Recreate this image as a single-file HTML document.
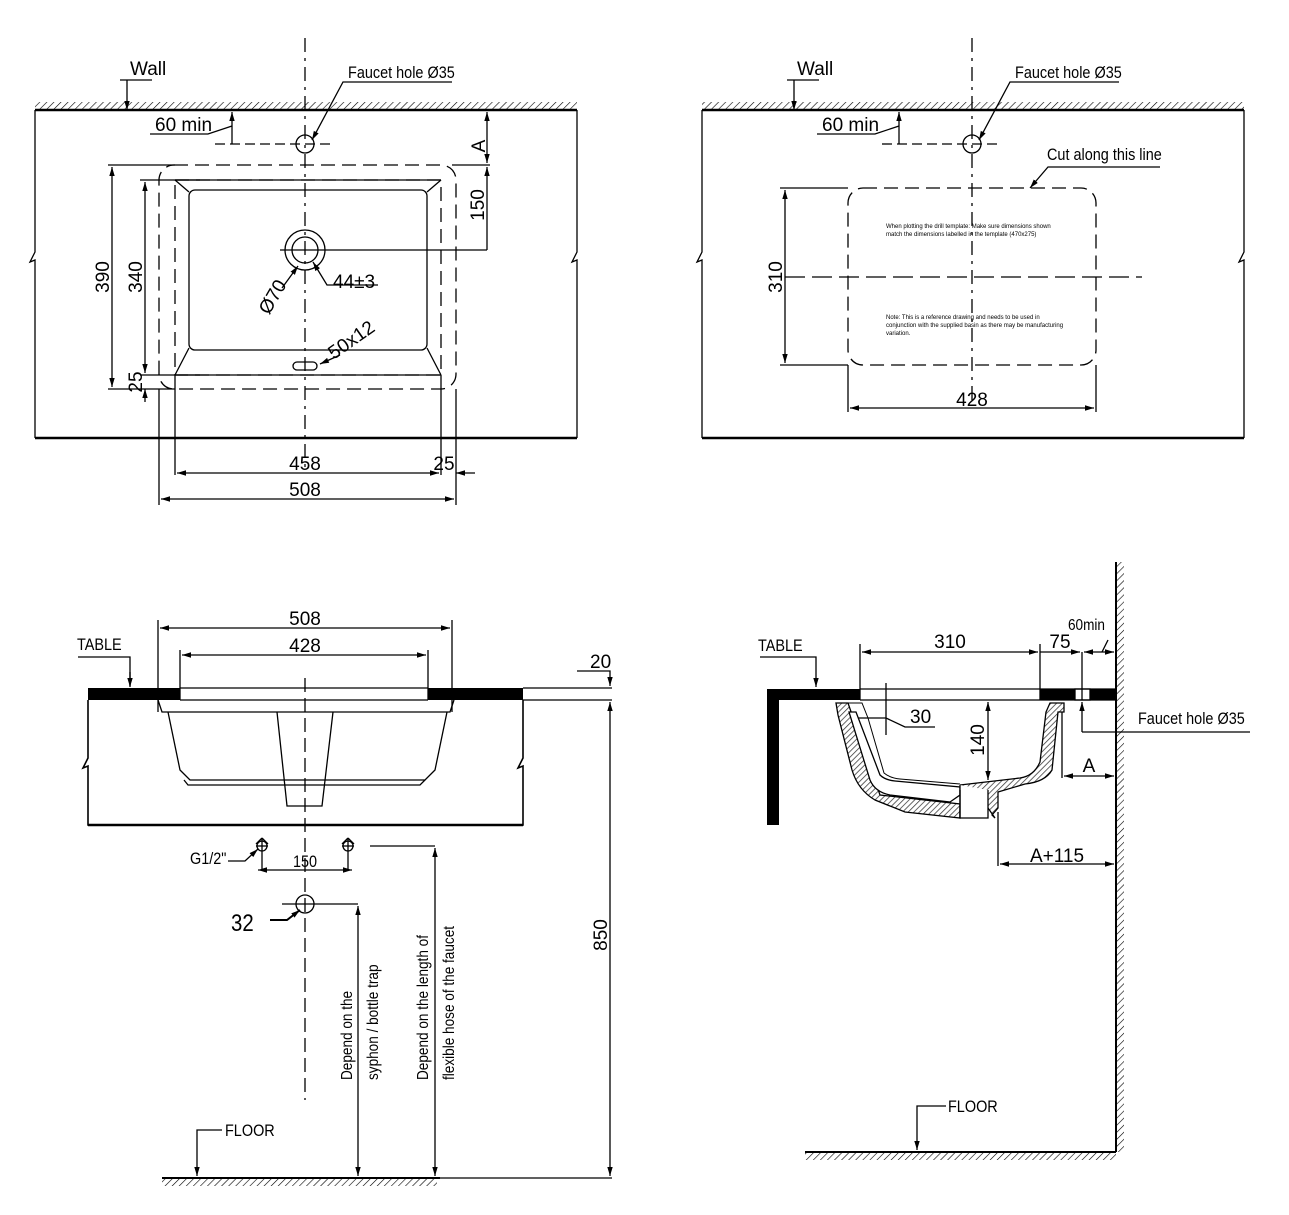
<!DOCTYPE html>
<html><head><meta charset="utf-8"><style>
html,body{margin:0;padding:0;background:#fff;}
svg{display:block;}
text{font-family:"Liberation Sans",sans-serif;fill:#000;}
.n{font-size:19px;}
.c{font-size:17px;transform-box:fill-box;}
</style></head><body>
<svg width="1289" height="1215" viewBox="0 0 1289 1215" xmlns="http://www.w3.org/2000/svg">
<defs>
<marker id="a" viewBox="0 0 10 10" refX="10" refY="5" markerWidth="9" markerHeight="9" orient="auto-start-reverse" markerUnits="userSpaceOnUse"><path d="M0,2 L10,5 L0,8 z" fill="#000"/></marker>
<pattern id="h" width="5" height="5" patternUnits="userSpaceOnUse" patternTransform="rotate(45)"><line x1="0" y1="0" x2="0" y2="5" stroke="#000" stroke-width="1.2"/></pattern>
<pattern id="hs" width="4" height="4" patternUnits="userSpaceOnUse" patternTransform="rotate(45)"><rect width="4" height="4" fill="#fff"/><line x1="0" y1="0" x2="0" y2="4" stroke="#333" stroke-width="1.5"/></pattern>
</defs>
<g fill="none" stroke="#000" stroke-width="1.3">

<!-- ============ TOP LEFT ============ -->
<rect x="35" y="102" width="542" height="8" fill="url(#h)" stroke="none"/>
<line x1="35" y1="110" x2="577" y2="110" stroke-width="2.5"/>
<line x1="35" y1="438" x2="577" y2="438" stroke-width="2.5"/>
<polyline points="35,110 35,252 30,262 35,260 35,438"/>
<polyline points="577,110 577,252 572,262 577,260 577,438"/>
<line x1="305" y1="38" x2="305" y2="470" stroke-dasharray="14,6,3,6"/>
<circle cx="305" cy="144" r="9"/>
<line x1="215" y1="144" x2="335" y2="144" stroke-dasharray="10,5"/>
<line x1="232" y1="112" x2="232" y2="144" marker-start="url(#a)"/>
<polyline points="150,134 208,134 232,126"/>
<polyline points="120,80 152,80"/><line x1="127" y1="80" x2="127" y2="110" marker-end="url(#a)"/>
<polyline points="452,82 343,82 312,140" marker-end="url(#a)"/>
<!-- dashed rects -->
<rect x="159" y="165" width="297" height="224" rx="15" stroke-dasharray="14,7"/>
<rect x="175" y="180" width="266" height="195" stroke-dasharray="14,7"/>
<line x1="175" y1="180" x2="441" y2="180"/>
<line x1="175" y1="375" x2="441" y2="375"/>
<rect x="189" y="190" width="238" height="160" rx="6"/>
<line x1="175" y1="180" x2="189" y2="192"/><line x1="441" y1="180" x2="427" y2="192"/>
<line x1="175" y1="375" x2="189" y2="348"/><line x1="441" y1="375" x2="427" y2="348"/>
<circle cx="305" cy="250" r="20"/><circle cx="305" cy="250" r="13"/>
<line x1="280" y1="250" x2="487" y2="250"/>
<rect x="293" y="362" width="24" height="8" rx="4"/>
<polyline points="378,285 327,285 313,262" marker-end="url(#a)"/>
<line x1="282" y1="288" x2="298" y2="266" marker-end="url(#a)"/>
<line x1="320" y1="364" x2="340" y2="355" marker-start="url(#a)"/>
<!-- right dims -->
<line x1="452" y1="165" x2="490" y2="165"/>
<line x1="487" y1="112" x2="487" y2="163" marker-start="url(#a)" marker-end="url(#a)"/>
<line x1="487" y1="167" x2="487" y2="250" marker-start="url(#a)"/>
<!-- left dims -->
<line x1="108" y1="165" x2="175" y2="165"/>
<line x1="108" y1="389" x2="175" y2="389"/>
<line x1="112" y1="167" x2="112" y2="387" marker-start="url(#a)" marker-end="url(#a)"/>
<line x1="140" y1="180" x2="200" y2="180"/>
<line x1="140" y1="375" x2="200" y2="375"/>
<line x1="145" y1="182" x2="145" y2="373" marker-start="url(#a)" marker-end="url(#a)"/>
<line x1="145" y1="389" x2="145" y2="402" marker-start="url(#a)"/>
<!-- bottom dims -->
<line x1="159" y1="389" x2="159" y2="505"/><line x1="456" y1="389" x2="456" y2="505"/>
<line x1="175" y1="375" x2="175" y2="475"/><line x1="441" y1="375" x2="441" y2="475"/>
<line x1="177" y1="473" x2="439" y2="473" marker-start="url(#a)" marker-end="url(#a)"/>
<line x1="456" y1="473" x2="475" y2="473" marker-start="url(#a)"/>
<line x1="161" y1="499" x2="454" y2="499" marker-start="url(#a)" marker-end="url(#a)"/>

<!-- ============ TOP RIGHT ============ -->
<rect x="702" y="102" width="542" height="8" fill="url(#h)" stroke="none"/>
<line x1="702" y1="110" x2="1244" y2="110" stroke-width="2.5"/>
<line x1="702" y1="438" x2="1244" y2="438" stroke-width="2.5"/>
<polyline points="702,110 702,252 697,262 702,260 702,438"/>
<polyline points="1244,110 1244,252 1239,262 1244,260 1244,438"/>
<line x1="972" y1="38" x2="972" y2="400" stroke-dasharray="14,6,3,6"/>
<circle cx="972" cy="144" r="9"/>
<line x1="882" y1="144" x2="1002" y2="144" stroke-dasharray="10,5"/>
<line x1="899" y1="112" x2="899" y2="144" marker-start="url(#a)"/>
<polyline points="817,134 875,134 899,126"/>
<polyline points="787,80 819,80"/><line x1="794" y1="80" x2="794" y2="110" marker-end="url(#a)"/>
<polyline points="1119,82 1010,82 979,140" marker-end="url(#a)"/>
<rect x="848" y="188" width="248" height="177" rx="15" stroke-dasharray="14,7"/>
<line x1="785" y1="277" x2="1142" y2="277" stroke-dasharray="20,7"/>
<polyline points="1160,167 1048,167 1030,188" marker-end="url(#a)"/>
<line x1="780" y1="188" x2="848" y2="188"/><line x1="780" y1="365" x2="848" y2="365"/>
<line x1="785" y1="190" x2="785" y2="363" marker-start="url(#a)" marker-end="url(#a)"/>
<line x1="848" y1="365" x2="848" y2="412"/><line x1="1096" y1="365" x2="1096" y2="412"/>
<line x1="850" y1="408" x2="1094" y2="408" marker-start="url(#a)" marker-end="url(#a)"/>

<!-- ============ BOTTOM LEFT ============ -->
<rect x="88" y="688" width="92" height="12" fill="#000" stroke="none"/>
<rect x="428" y="688" width="95" height="12" fill="#000" stroke="none"/>
<line x1="180" y1="688" x2="428" y2="688"/>
<line x1="180" y1="700" x2="428" y2="700"/>
<polyline points="88,700 88,758 83,768 88,766 88,825 523,825 523,766 518,768 523,758 523,700" stroke-width="1.6"/>
<line x1="88" y1="825" x2="523" y2="825" stroke-width="2.5"/>
<polyline points="158,700 162,712 450,712 454,700"/>
<polyline points="168,712 180,770 190,780 425,780 435,770 447,712"/>
<polyline points="184,780 188,785 420,785 425,780"/>
<polyline points="277,712 287,806 322,806 333,712"/>
<line x1="305" y1="678" x2="305" y2="1100" stroke-dasharray="14,6"/>
<line x1="158" y1="620" x2="158" y2="712"/><line x1="452" y1="620" x2="452" y2="712"/>
<line x1="160" y1="628" x2="450" y2="628" marker-start="url(#a)" marker-end="url(#a)"/>
<line x1="180" y1="650" x2="180" y2="700"/><line x1="428" y1="650" x2="428" y2="700"/>
<line x1="182" y1="655" x2="426" y2="655" marker-start="url(#a)" marker-end="url(#a)"/>
<polyline points="78,657 130,657 130,686" /><line x1="130" y1="672" x2="130" y2="687" marker-end="url(#a)"/>
<line x1="523" y1="688" x2="612" y2="688"/><line x1="523" y1="700" x2="612" y2="700"/>
<polyline points="577,671 610,671 610,686" marker-end="url(#a)"/>
<line x1="610" y1="702" x2="610" y2="1176" marker-start="url(#a)" marker-end="url(#a)"/>
<line x1="435" y1="1178" x2="612" y2="1178"/>
<!-- valves -->
<g>
<circle cx="262" cy="846" r="5"/><line x1="256" y1="846" x2="268" y2="846"/><line x1="262" y1="838" x2="262" y2="870"/>
<path d="M262,838 L268,844 M262,838 L256,844"/>
<circle cx="348" cy="846" r="5"/><line x1="342" y1="846" x2="354" y2="846"/><line x1="348" y1="838" x2="348" y2="870"/>
<path d="M348,838 L354,844 M348,838 L342,844"/>
</g>
<polyline points="228,861 245,861 258,849" marker-end="url(#a)"/>
<line x1="258" y1="870" x2="352" y2="870" marker-start="url(#a)" marker-end="url(#a)"/>
<circle cx="305" cy="904" r="9"/>
<line x1="282" y1="904" x2="358" y2="904"/>
<polyline points="270,920 287,920 300,910" marker-end="url(#a)" stroke-width="2"/>
<line x1="358" y1="906" x2="358" y2="1176" marker-start="url(#a)" marker-end="url(#a)"/>
<line x1="370" y1="846" x2="435" y2="846"/>
<line x1="435" y1="848" x2="435" y2="1176" marker-start="url(#a)" marker-end="url(#a)"/>
<rect x="162" y="1178" width="275" height="8" fill="url(#h)" stroke="none"/>
<line x1="162" y1="1178" x2="440" y2="1178" stroke-width="2"/>
<polyline points="222,1130 197,1130 197,1176" marker-end="url(#a)"/>

<!-- ============ BOTTOM RIGHT ============ -->
<rect x="1116" y="562" width="8" height="590" fill="url(#h)" stroke="none"/>
<line x1="1116" y1="562" x2="1116" y2="1152" stroke-width="2"/>
<rect x="805" y="1152" width="311" height="8" fill="url(#h)" stroke="none"/>
<line x1="805" y1="1152" x2="1116" y2="1152" stroke-width="2"/>
<polyline points="946,1106 917,1106 917,1150" marker-end="url(#a)"/>
<rect x="767" y="689" width="93" height="11" fill="#000" stroke="none"/>
<rect x="767" y="689" width="12" height="136" fill="#000" stroke="none"/>
<rect x="1040" y="689" width="35" height="11" fill="#000" stroke="none"/>
<rect x="1090" y="689" width="26" height="11" fill="#000" stroke="none"/>
<line x1="860" y1="689" x2="1116" y2="689"/><line x1="860" y1="700" x2="1116" y2="700"/>
<rect x="1075" y="689" width="15" height="11"/>
<polyline points="760,657 816,657 816,687" marker-end="url(#a)"/>
<!-- basin section -->
<path d="M836,703 L848,703 L880,795 L960,804 L960,808 L960,818 L905,812 L875,800 Q858,790 852,770 L838,715 Z" fill="url(#hs)"/>
<path d="M849,712 L856,712 L880,775 Q885,780 895,781 L960,787 L960,795 L950,802 L890,795 Q875,792 870,780 Z" fill="#fff"/>
<path d="M848,703 L862,703 L868,718 L884,773 Q890,778 900,779 L960,784" stroke-width="1"/>
<path d="M960,785 L1020,778 Q1034,776 1040,762 L1046,712 L1050,703 L1064,703 L1064,712 L1058,712 L1052,770 Q1045,782 1025,784 L998,792 L998,808 L992,815 L995,818 L988,808" fill="url(#hs)"/>
<path d="M960,785 L960,818 L988,818 L988,790" fill="#fff"/>
<line x1="960" y1="790" x2="960" y2="818"/>
<line x1="1062" y1="712" x2="1062" y2="778"/>
<line x1="860" y1="644" x2="860" y2="700"/><line x1="1040" y1="644" x2="1040" y2="700"/>
<line x1="862" y1="652" x2="1038" y2="652" marker-start="url(#a)" marker-end="url(#a)"/>
<line x1="1040" y1="652" x2="1080" y2="652" marker-end="url(#a)"/>
<line x1="1082" y1="652" x2="1082" y2="700"/>
<line x1="1084" y1="652" x2="1114" y2="652" marker-start="url(#a)" marker-end="url(#a)"/>
<line x1="1102" y1="652" x2="1108" y2="640"/>
<line x1="1082" y1="732" x2="1082" y2="702" marker-end="url(#a)"/>
<line x1="1082" y1="732" x2="1250" y2="732"/>
<line x1="886" y1="683" x2="886" y2="735"/>
<polyline points="858,718 886,718 905,727 935,727"/>
<line x1="988" y1="702" x2="988" y2="780" marker-start="url(#a)" marker-end="url(#a)"/>
<line x1="1064" y1="776" x2="1114" y2="776" marker-start="url(#a)" marker-end="url(#a)"/>
<line x1="998" y1="812" x2="998" y2="866"/>
<line x1="1000" y1="864" x2="1114" y2="864" marker-start="url(#a)" marker-end="url(#a)"/>
</g>

<!-- ============ TEXT ============ -->
<g class="n">
<text x="130" y="75">Wall</text>
<text x="348" y="78" font-size="17" transform="translate(348,78) scale(0.85,1) translate(-348,-78)">Faucet hole Ø35</text>
<text x="155" y="131">60 min</text>
<text x="485" y="146" transform="rotate(-90 485 146)" text-anchor="middle">A</text>
<text x="484" y="205" transform="rotate(-90 484 205)" text-anchor="middle">150</text>
<text x="109" y="277" transform="rotate(-90 109 277)" text-anchor="middle">390</text>
<text x="142" y="277" transform="rotate(-90 142 277)" text-anchor="middle">340</text>
<text x="142" y="382" transform="rotate(-90 142 382)" text-anchor="middle">25</text>
<text x="278" y="300" transform="rotate(-60 278 300)" text-anchor="middle">Ø70</text>
<text x="333" y="288">44±3</text>
<text x="355" y="345" transform="rotate(-35 355 345)" text-anchor="middle">50x12</text>
<text x="305" y="470" text-anchor="middle">458</text>
<text x="444" y="470" text-anchor="middle">25</text>
<text x="305" y="496" text-anchor="middle">508</text>

<text x="797" y="75">Wall</text>
<text x="1015" y="78" font-size="17" transform="translate(1015,78) scale(0.85,1) translate(-1015,-78)">Faucet hole Ø35</text>
<text x="822" y="131">60 min</text>
<text x="1047" y="160" font-size="17" transform="translate(1047,160) scale(0.85,1) translate(-1047,-160)">Cut along this line</text>
<text x="782" y="277" transform="rotate(-90 782 277)" text-anchor="middle">310</text>
<text x="972" y="406" text-anchor="middle">428</text>
<text x="886" y="228" font-size="6">When plotting the drill template: Make sure dimensions shown</text>
<text x="886" y="236" font-size="6">match the dimensions labelled in the template (470x275)</text>
<text x="886" y="319" font-size="6">Note: This is a reference drawing and needs to be used in</text>
<text x="886" y="327" font-size="6">conjunction with the supplied basin as there may be manufacturing</text>
<text x="886" y="335" font-size="6">variation.</text>

<text x="305" y="625" text-anchor="middle">508</text>
<text x="305" y="652" text-anchor="middle">428</text>
<text x="77" y="650" font-size="17" transform="translate(77,650) scale(0.85,1) translate(-77,-650)">TABLE</text>
<text x="590" y="668">20</text>
<text x="607" y="935" transform="rotate(-90 607 935)" text-anchor="middle">850</text>
<text x="190" y="864" font-size="17" transform="translate(190,864) scale(0.85,1) translate(-190,-864)">G1/2"</text>
<text x="305" y="867" text-anchor="middle" font-size="17" transform="translate(305,867) scale(0.85,1) translate(-305,-867)">150</text>
<text x="231" y="931" font-size="24" transform="translate(231,931) scale(0.85,1) translate(-231,-931)">32</text>
<text x="352" y="1080" font-size="16" transform="translate(352,1080) rotate(-90) scale(0.85,1) translate(-352,-1080)">Depend on the</text>
<text x="378" y="1080" font-size="16" transform="translate(378,1080) rotate(-90) scale(0.85,1) translate(-378,-1080)">syphon / bottle trap</text>
<text x="428" y="1080" font-size="16" transform="translate(428,1080) rotate(-90) scale(0.85,1) translate(-428,-1080)">Depend on the length of</text>
<text x="454" y="1080" font-size="16" transform="translate(454,1080) rotate(-90) scale(0.85,1) translate(-454,-1080)">flexible hose of the faucet</text>
<text x="225" y="1136" font-size="17" transform="translate(225,1136) scale(0.85,1) translate(-225,-1136)">FLOOR</text>

<text x="758" y="651" font-size="17" transform="translate(758,651) scale(0.85,1) translate(-758,-651)">TABLE</text>
<text x="950" y="648" text-anchor="middle">310</text>
<text x="1060" y="648" text-anchor="middle">75</text>
<text x="1068" y="630" font-size="16" transform="translate(1068,630) scale(0.85,1) translate(-1068,-630)">60min</text>
<text x="1138" y="724" font-size="17" transform="translate(1138,724) scale(0.85,1) translate(-1138,-724)">Faucet hole Ø35</text>
<text x="910" y="723">30</text>
<text x="984" y="740" transform="rotate(-90 984 740)" text-anchor="middle">140</text>
<text x="1089" y="772" text-anchor="middle">A</text>
<text x="1057" y="862" text-anchor="middle">A+115</text>
<text x="948" y="1112" font-size="17" transform="translate(948,1112) scale(0.85,1) translate(-948,-1112)">FLOOR</text>
</g>
</svg>
</body></html>
